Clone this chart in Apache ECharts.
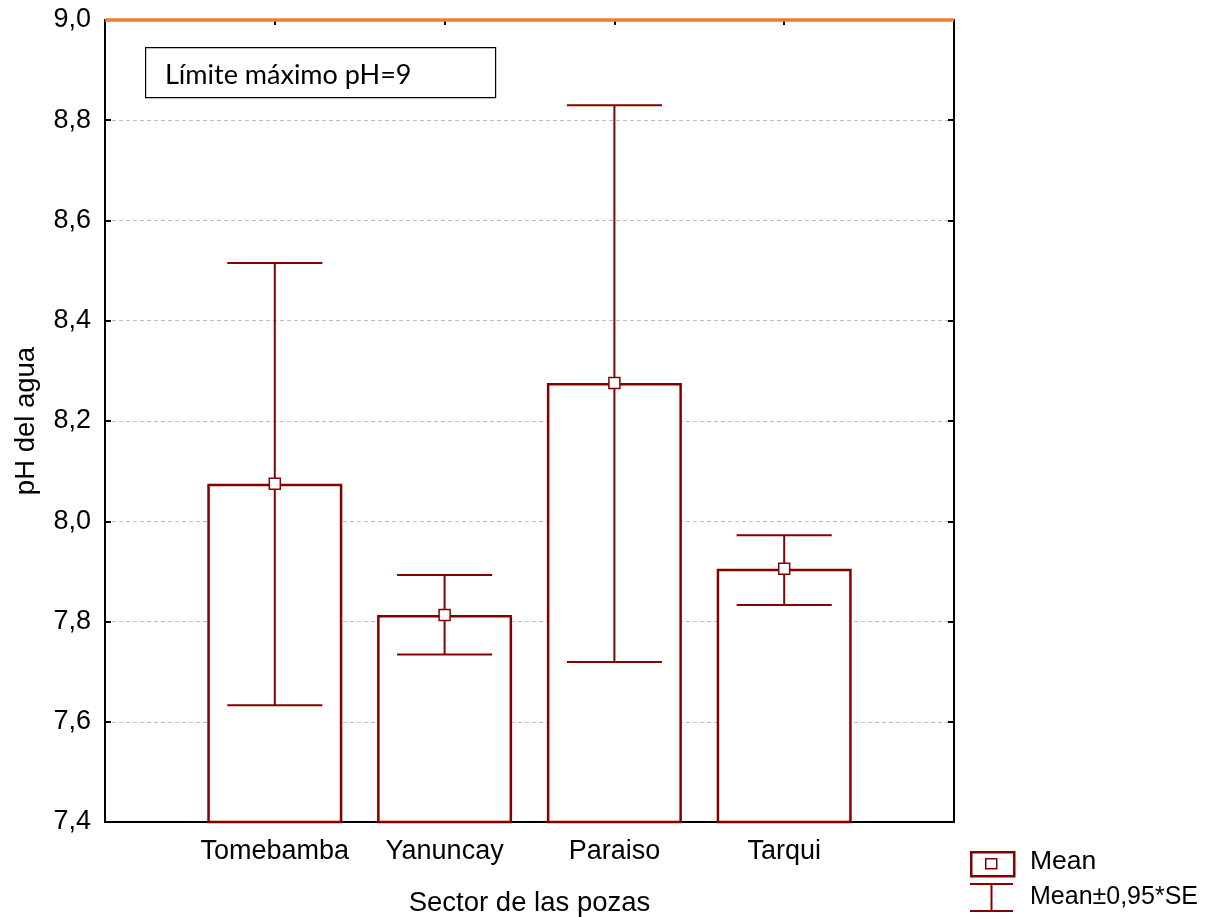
<!DOCTYPE html>
<html>
<head>
<meta charset="utf-8">
<script src="https://cdn.jsdelivr.net/npm/echarts@6/dist/echarts.min.js"></script>
<style>
html,body{margin:0;padding:0;background:#fff;}
#chart{width:1225px;height:917px;}
</style>
</head>
<body>
<div id="chart"></div>
<script>
// ---- data ----
const categories = ['Tomebamba', 'Yanuncay', 'Paraiso', 'Tarqui'];
const means = [8.075, 7.813, 8.276, 7.905];
const upper = [8.515, 7.893, 8.830, 7.972];
const lower = [7.633, 7.734, 7.719, 7.833];
const yMin = 7.4, yMax = 9.0, yStep = 0.2;
const limitValue = 9.0;
const limitLabel = 'Límite máximo pH=9';
const xTitle = 'Sector de las pozas';
const yTitle = 'pH del agua';
const legendMean = 'Mean';
const legendErr = 'Mean±0,95*SE';

// ---- build ----
const RED = '#870000';
const axisData = [''].concat(categories, ['']);
const barData = [null].concat(means, [null]);
const errData = categories.map((c, i) => [i + 1, lower[i], upper[i]]);
const limitData = axisData.map(() => limitValue);
const FONT = 'Liberation Sans, Arial, sans-serif';

const chart = echarts.init(document.getElementById('chart'), null, {renderer: 'canvas'});
chart.setOption({
  animation: false,
  backgroundColor: '#fff',
  grid: {
    left: 105, right: 271, top: 20, bottom: 95,
    show: true, borderColor: '#000', borderWidth: 2,
    outerBoundsMode: 'none'
  },
  xAxis: [{
    type: 'category', data: axisData, boundaryGap: false, position: 'bottom',
    axisLine: {show: true, lineStyle: {color: '#000', width: 2}},
    axisTick: {show: true, inside: true, length: 5, lineStyle: {color: '#000', width: 2}},
    axisLabel: {color: '#000', fontSize: 27, fontFamily: FONT, margin: 16, interval: 0},
    splitLine: {show: false},
    name: xTitle, nameLocation: 'middle', nameGap: 67,
    nameTextStyle: {color: '#000', fontSize: 27.5, fontFamily: FONT}
  }, {
    type: 'category', data: axisData, boundaryGap: false, position: 'top',
    axisLine: {show: true, lineStyle: {color: '#000', width: 2}},
    axisTick: {show: true, inside: true, length: 5, lineStyle: {color: '#000', width: 2}},
    axisLabel: {show: false}, splitLine: {show: false}
  }],
  yAxis: [{
    type: 'value', min: yMin, max: yMax, interval: yStep, position: 'left',
    axisLine: {show: true, lineStyle: {color: '#000', width: 2}},
    axisTick: {show: true, inside: true, length: 6, lineStyle: {color: '#000', width: 2}},
    axisLabel: {color: '#000', fontSize: 27, fontFamily: FONT, margin: 14,
      formatter: v => v.toFixed(1).replace('.', ',')},
    splitLine: {show: true, lineStyle: {color: '#bdbdbd', width: 1, type: [4, 3]}},
    name: yTitle, nameLocation: 'middle', nameGap: 65, nameRotate: 90,
    nameTextStyle: {color: '#000', fontSize: 27.5, fontFamily: FONT}
  }, {
    type: 'value', min: yMin, max: yMax, interval: yStep, position: 'right',
    axisLine: {show: true, lineStyle: {color: '#000', width: 2}},
    axisTick: {show: true, inside: true, length: 6, lineStyle: {color: '#000', width: 2}},
    axisLabel: {show: false}, splitLine: {show: false}
  }],
  series: [{
    name: legendMean, type: 'bar', data: barData, barWidth: 135,
    itemStyle: {color: '#fff', borderColor: RED, borderWidth: 2.5},
    z: 2
  }, {
    name: legendErr, type: 'custom', data: errData,
    encode: {x: 0, y: [1, 2]},
    renderItem: function (params, api) {
      const x = api.value(0);
      const lo = api.coord([x, api.value(1)]);
      const hi = api.coord([x, api.value(2)]);
      const half = api.size([1, 0])[0] * 0.28;
      const st = {stroke: RED, lineWidth: 2};
      return {type: 'group', children: [
        {type: 'line', shape: {x1: hi[0], y1: hi[1], x2: lo[0], y2: lo[1]}, style: st},
        {type: 'line', shape: {x1: hi[0] - half, y1: hi[1], x2: hi[0] + half, y2: hi[1]}, style: st},
        {type: 'line', shape: {x1: lo[0] - half, y1: lo[1], x2: lo[0] + half, y2: lo[1]}, style: st}
      ]};
    },
    z: 3
  }, {
    name: 'meanPoint', type: 'scatter', data: barData,
    symbol: 'rect', symbolSize: 11,
    itemStyle: {color: '#fff', borderColor: RED, borderWidth: 1.5, opacity: 1},
    z: 4
  }, {
    name: 'limit', type: 'line', data: limitData, symbol: 'none',
    lineStyle: {color: '#ED7D31', width: 3.5}, clip: false, z: 5
  }],
  graphic: [
    {type: 'rect', left: 145, top: 47, shape: {width: 350, height: 50},
      style: {fill: '#fff', stroke: '#000', lineWidth: 1.2}, z: 10},
    {type: 'text', left: 165, top: 62, z: 11,
      style: {text: limitLabel, fill: '#000', font: '27px Lato, "Open Sans", sans-serif'}},
    // legend
    {type: 'rect', left: 970, top: 851, shape: {width: 43, height: 24},
      style: {fill: '#fff', stroke: RED, lineWidth: 2.5}, z: 10},
    {type: 'rect', left: 985, top: 858, shape: {width: 11, height: 10},
      style: {fill: '#fff', stroke: RED, lineWidth: 1.5}, z: 11},
    {type: 'text', left: 1030, top: 848, z: 11,
      style: {text: legendMean, fill: '#000', font: '26.5px "Liberation Sans", Arial, sans-serif'}},
    {type: 'line', shape: {x1: 970, y1: 884, x2: 1013, y2: 884}, style: {stroke: RED, lineWidth: 2}, z: 10},
    {type: 'line', shape: {x1: 991.5, y1: 884, x2: 991.5, y2: 911}, style: {stroke: RED, lineWidth: 2}, z: 10},
    {type: 'line', shape: {x1: 970, y1: 911, x2: 1013, y2: 911}, style: {stroke: RED, lineWidth: 2}, z: 10},
    {type: 'text', left: 1030, top: 885, z: 11,
      style: {text: legendErr, fill: '#000', font: '25px "Liberation Sans", Arial, sans-serif'}}
  ]
});
</script>
</body>
</html>
